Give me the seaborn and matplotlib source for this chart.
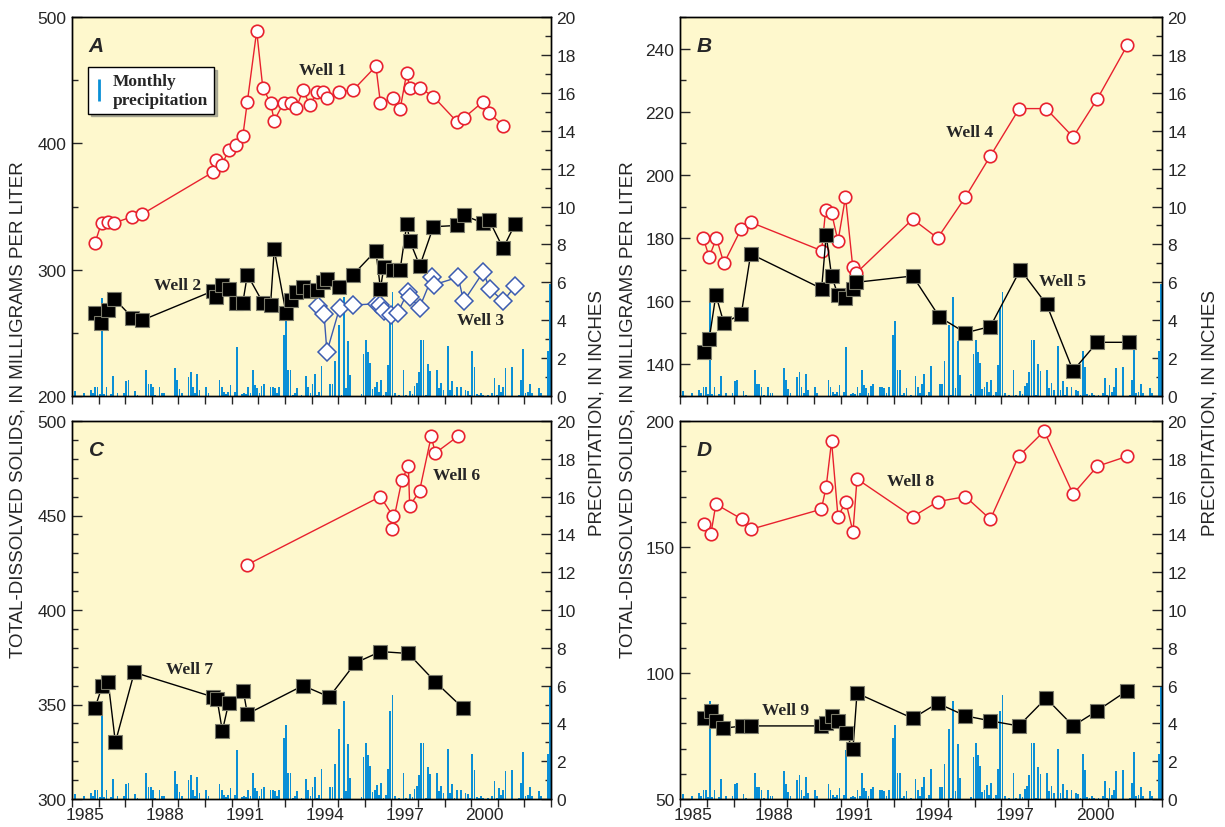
import numpy as np
import pandas as pd
import matplotlib
matplotlib.use('Agg')
import matplotlib.pyplot as plt
from matplotlib.lines import Line2D
from matplotlib.ticker import MultipleLocator, FixedLocator, NullFormatter
import seaborn as sns

# Monthly precipitation, inches, Jan 1985 - Dec 2002 (one row per year)
precip_by_year = [
    [0, 0.29, 0, 0, 0, 0.14, 0, 0, 0.32, 0.14, 0.45, 0.5],          # 1985
    [0.1, 5.16, 0.1, 0.45, 0, 0.1, 1.04, 0, 0.18, 0, 0, 0.14],       # 1986
    [0.77, 0.86, 0, 0, 0.29, 0.05, 0, 0, 0, 1.36, 0.61, 0.61],       # 1987
    [0.5, 0.05, 0, 0.45, 0.14, 0.14, 0, 0, 0, 0, 1.47, 0.82],        # 1988
    [0.36, 0.18, 0, 0, 1.0, 1.25, 0.47, 0.14, 1.15, 0.32, 0, 0],     # 1989
    [0.5, 0.14, 0, 0, 0, 0, 0.82, 0.47, 0.23, 0.1, 0.23, 0.57],      # 1990
    [0, 0.2, 2.6, 0, 0.1, 0.14, 0.1, 0.47, 0.14, 1.36, 0.6, 0.4],    # 1991
    [0.14, 0.54, 0.61, 0, 0, 0.5, 0.5, 0.4, 0.18, 0.45, 0, 3.24],    # 1992
    [3.94, 1.36, 1.36, 0.05, 0.18, 0.4, 0, 0.05, 0, 1.04, 0.5, 0.18],  # 1993
    [0.65, 1.15, 0.05, 0.23, 1.58, 0, 0, 0, 0.61, 0.61, 1.85, 0],    # 1994
    [3.73, 0.05, 5.2, 0.4, 2.92, 1.11, 0, 0, 0, 0, 0.1, 2.24],       # 1995
    [2.97, 2.33, 1.72, 0.36, 0.5, 0.72, 0.23, 0.86, 0.05, 0.23, 1.61, 4.66],  # 1996
    [5.48, 0.14, 0, 0.05, 0, 1.36, 0.05, 0, 0.29, 0.1, 0.54, 0.68],  # 1997
    [1.25, 2.97, 2.97, 0.05, 1.68, 1.31, 0, 0, 1.36, 0.4, 0.68, 0.32],  # 1998
    [0, 2.65, 0.32, 0.77, 0.07, 0.5, 0, 0.5, 0, 0.32, 0.29, 0.04],   # 1999
    [2.38, 1.54, 0.1, 0.05, 0.18, 0.04, 0, 0.07, 0, 0.18, 0.93, 0.04],  # 2000
    [0.59, 0.23, 0.47, 1.47, 0, 0, 1.52, 0, 0, 0.07, 0.86, 2.5],     # 2001
    [0.18, 0.2, 0.65, 0.18, 0, 0, 0.4, 0.18, 0, 0, 2.38, 5.9],       # 2002
]

# Well data: decimal year and total-dissolved solids (mg/L)
well1_t = [1985.86, 1986.11, 1986.34, 1986.59, 1987.27, 1987.64, 1990.28, 1990.43, 1990.64, 1990.89,
           1991.17, 1991.42, 1991.59, 1991.94, 1992.17, 1992.46, 1992.60, 1992.95, 1993.23, 1993.43,
           1993.68, 1993.95, 1994.20, 1994.42, 1994.60, 1995.04, 1995.56, 1996.42, 1996.59, 1997.06,
           1997.33, 1997.58, 1997.69, 1998.07, 1998.58, 1999.47, 1999.72, 2000.45, 2000.68, 2001.20]
well1_v = [321, 337, 338, 337, 342, 344, 377, 387, 383, 395,
           399, 406, 433, 489, 444, 432, 418, 432, 432, 428,
           442, 430, 441, 441, 436, 441, 442, 461, 432, 436,
           427, 456, 444, 444, 437, 417, 420, 433, 424, 414]

well2_t = [1985.86, 1986.08, 1986.34, 1986.59, 1987.27, 1987.64, 1990.28, 1990.43, 1990.64, 1990.89,
           1991.17, 1991.42, 1991.59, 1992.17, 1992.46, 1992.60, 1993.04, 1993.23, 1993.43, 1993.68,
           1993.95, 1994.20, 1994.42, 1994.60, 1995.04, 1995.56, 1996.42, 1996.59, 1996.72, 1997.06,
           1997.33, 1997.58, 1997.69, 1998.07, 1998.58, 1999.47, 1999.72, 2000.45, 2000.68, 2001.20,
           2001.65]
well2_v = [266, 258, 268, 277, 262, 260, 283, 278, 288, 285,
           274, 274, 296, 274, 272, 316, 266, 276, 282, 286,
           283, 284, 290, 293, 286, 296, 315, 285, 302, 300,
           300, 336, 323, 303, 334, 335, 343, 337, 339, 317,
           336]

well3_t = [1994.23, 1994.47, 1994.58, 1995.06, 1995.56, 1996.45, 1996.57, 1996.72, 1996.99, 1997.24,
           1997.61, 1997.72, 1998.06, 1998.53, 1998.59, 1999.51, 1999.72, 2000.45, 2000.70, 2001.20,
           2001.65]
well3_v = [271, 265, 235, 270, 272, 273, 272, 267, 264, 266,
           282, 278, 270, 294, 288, 294, 275, 298, 285, 275,
           287]

well4_t = [1985.87, 1986.09, 1986.36, 1986.64, 1987.29, 1987.64, 1990.29, 1990.44, 1990.66, 1990.90,
           1991.18, 1991.45, 1991.59, 1993.69, 1994.62, 1995.66, 1996.59, 1997.67, 1998.67, 1999.68,
           2000.58, 2001.70]
well4_v = [180, 174, 180, 172, 183, 185, 176, 189, 188, 179,
           193, 171, 169, 186, 180, 193, 206, 221, 221, 212,
           224, 241]

well5_t = [1985.88, 1986.09, 1986.34, 1986.64, 1987.29, 1987.64, 1990.29, 1990.46, 1990.66, 1990.90,
           1991.18, 1991.45, 1991.59, 1993.69, 1994.69, 1995.66, 1996.59, 1997.71, 1998.69, 1999.68,
           2000.58, 2001.76]
well5_v = [144, 148, 162, 153, 156, 175, 164, 181, 168, 162,
           161, 164, 166, 168, 155, 150, 152, 170, 159, 138,
           147, 147]

well6_t = [1991.59, 1996.59, 1997.05, 1997.02, 1997.40, 1997.64, 1997.69, 1998.06, 1998.50, 1998.65,
           1999.51]
well6_v = [424, 460, 450, 443, 469, 476, 455, 463, 492, 483,
           492]

well7_t = [1985.86, 1986.14, 1986.36, 1986.63, 1987.34, 1990.30, 1990.45, 1990.65, 1990.89, 1991.44,
           1991.59, 1993.68, 1994.67, 1995.65, 1996.59, 1997.64, 1998.65, 1999.70]
well7_v = [348, 360, 362, 330, 367, 354, 353, 336, 351, 357,
           345, 360, 354, 372, 378, 377, 362, 348]

well8_t = [1985.90, 1986.15, 1986.34, 1987.32, 1987.64, 1990.28, 1990.46, 1990.66, 1990.90, 1991.19,
           1991.46, 1991.61, 1993.69, 1994.62, 1995.66, 1996.59, 1997.65, 1998.60, 1999.68, 2000.58,
           2001.70]
well8_v = [159, 155, 167, 161, 157, 165, 174, 192, 162, 168,
           156, 177, 162, 168, 170, 161, 186, 196, 171, 182,
           186]

well9_t = [1985.88, 1986.15, 1986.34, 1986.59, 1987.32, 1987.64, 1990.28, 1990.46, 1990.66, 1990.90,
           1991.19, 1991.46, 1991.61, 1993.69, 1994.62, 1995.66, 1996.59, 1997.65, 1998.67, 1999.68,
           2000.58, 2001.70]
well9_v = [82, 85, 81, 78, 79, 79, 79, 80, 83, 81,
           76, 70, 92, 82, 88, 83, 81, 79, 90, 79,
           85, 93]

year_labels = [1985, 1988, 1991, 1994, 1997, 2000]

# ---- colours ----
BG = '#fef8cd'
BLUE_BAR = '#0a8fd6'
RED = '#e8212e'
DIAMOND = '#3b5bb0'

sns.set_style('ticks')
plt.rcParams['font.family'] = ['Liberation Sans', 'DejaVu Sans']
serif_bold = {'family': 'Liberation Serif', 'weight': 'bold', 'size': 12.5}

precip = np.array(precip_by_year).ravel()
months = 1985 + (np.arange(len(precip)) + 0.5) / 12.0

fig = plt.figure(figsize=(12.25, 8.28), dpi=100)
W, H = 1225.0, 828.0


def make_panel(rect_px, ylim, ymajor, yminor, letter, bottom_labels):
    l, t, r, b = rect_px
    ax2 = fig.add_axes([l / W, 1 - b / H, (r - l) / W, (b - t) / H])
    ax = ax2.twinx()
    # precipitation bars on the right axis (drawn behind the wells)
    ax2.set_facecolor(BG)
    ax2.bar(months, precip, width=0.78 / 12, color=BLUE_BAR, linewidth=0, zorder=1)
    ax2.set_ylim(0, 20)
    ax2.set_xlim(1985, 2003)
    ax2.yaxis.set_label_position('right')
    ax2.yaxis.tick_right()
    ax2.yaxis.set_major_locator(MultipleLocator(2))
    ax2.yaxis.set_minor_locator(MultipleLocator(1))
    # well axis on the left
    ax.yaxis.set_label_position('left')
    ax.yaxis.tick_left()
    ax.set_ylim(*ylim)
    ax.yaxis.set_major_locator(MultipleLocator(ymajor))
    ax.yaxis.set_minor_locator(MultipleLocator(yminor))
    ax.set_zorder(ax2.get_zorder() + 1)
    ax.patch.set_visible(False)
    for a in (ax, ax2):
        for s in a.spines.values():
            s.set_linewidth(1.0)
            s.set_color('black')
    ax.tick_params(axis='y', which='major', direction='in', length=7, width=1, labelsize=12.5, pad=4)
    ax.tick_params(axis='y', which='minor', direction='in', length=4, width=1)
    ax2.tick_params(axis='y', which='major', direction='in', length=7, width=1, labelsize=12.5, pad=4)
    ax2.tick_params(axis='y', which='minor', direction='in', length=4, width=1)
    # x ticks at every year; labels centred in the year
    ax2.set_xticks(np.arange(1985, 2004))
    ax2.xaxis.set_major_formatter(NullFormatter())
    if bottom_labels:
        ax2.xaxis.set_minor_locator(FixedLocator([y + 0.5 for y in year_labels]))
        ax2.set_xticklabels([str(y) for y in year_labels], minor=True)
    else:
        ax2.xaxis.set_minor_locator(FixedLocator([]))
    # bottom ticks point out, top ticks point in
    ax2.tick_params(axis='x', which='major', direction='out', length=6, width=1,
                    top=False, bottom=True)
    ax2.tick_params(axis='x', which='minor', length=0, labelsize=12.5, pad=6,
                    top=False, bottom=True)
    ax.tick_params(axis='x', which='major', direction='in', length=6, width=1,
                   top=True, bottom=False, labeltop=False, labelbottom=False)
    ax.tick_params(axis='x', which='minor', length=0, top=False, bottom=False,
                   labeltop=False, labelbottom=False)
    ax2.set_ylabel('')
    ax.set_ylabel('')
    ax.text(0.035, 0.925, letter, transform=ax.transAxes, fontsize=15,
            fontweight='bold', fontstyle='italic', ha='left', va='center')
    return ax, ax2


def draw_well(ax, t, v, kind):
    df = pd.DataFrame({'year': t, 'tds': v})
    if kind == 'circle':
        sns.lineplot(data=df, x='year', y='tds', ax=ax, estimator=None, sort=False,
                     color=RED, linewidth=1.0, marker='o', markersize=9,
                     markerfacecolor='white', markeredgecolor=RED, markeredgewidth=1.2, zorder=3)
    elif kind == 'square':
        sns.lineplot(data=df, x='year', y='tds', ax=ax, estimator=None, sort=False,
                     color='black', linewidth=1.0, marker='s', markersize=9.5,
                     markerfacecolor='black', markeredgecolor='#7a7a6a', markeredgewidth=0.8, zorder=4)
    else:
        sns.lineplot(data=df, x='year', y='tds', ax=ax, estimator=None, sort=False,
                     color=DIAMOND, linewidth=1.0, marker='D', markersize=9,
                     markerfacecolor='white', markeredgecolor=DIAMOND, markeredgewidth=1.1, zorder=3)
    ax.set_xlabel('')
    ax.set_ylabel('')


# Panel A
axA, axA2 = make_panel((72, 18, 551, 397), (200, 500), 100, 50, 'A', False)
draw_well(axA, well3_t, well3_v, 'diamond')
draw_well(axA, well2_t, well2_v, 'square')
draw_well(axA, well1_t, well1_v, 'circle')
axA.text(1994.4, 458, 'Well 1', fontdict=serif_bold, ha='center', va='center')
axA.text(1988.95, 288, 'Well 2', fontdict=serif_bold, ha='center', va='center')
axA.text(2000.35, 260, 'Well 3', fontdict=serif_bold, ha='center', va='center')
leg_handle = Line2D([], [], color=BLUE_BAR, marker='|', linestyle='None', markersize=16, markeredgewidth=2)
leg = axA.legend([leg_handle], ['Monthly\nprecipitation'], loc='upper left',
                 bbox_to_anchor=(0.033, 0.868), borderaxespad=0, prop=serif_bold,
                 frameon=True, fancybox=False, shadow={'color': '#9a9a8a', 'alpha': 0.8},
                 handlelength=0.6, handletextpad=0.5, borderpad=0.35, framealpha=1)
leg.get_frame().set_edgecolor('black')
leg.get_frame().set_linewidth(1.0)

# Panel B
axB, axB2 = make_panel((680, 18, 1162, 397), (130, 250), 20, 10, 'B', False)
draw_well(axB, well5_t, well5_v, 'square')
draw_well(axB, well4_t, well4_v, 'circle')
axB.text(1995.8, 213.5, 'Well 4', fontdict=serif_bold, ha='center', va='center')
axB.text(1999.3, 166.5, 'Well 5', fontdict=serif_bold, ha='center', va='center')

# Panel C
axC, axC2 = make_panel((72, 422, 551, 800), (300, 500), 50, 10, 'C', True)
draw_well(axC, well7_t, well7_v, 'square')
draw_well(axC, well6_t, well6_v, 'circle')
axC.text(1999.45, 471.5, 'Well 6', fontdict=serif_bold, ha='center', va='center')
axC.text(1989.4, 369, 'Well 7', fontdict=serif_bold, ha='center', va='center')

# Panel D
axD, axD2 = make_panel((680, 422, 1162, 800), (50, 200), 50, 10, 'D', True)
draw_well(axD, well9_t, well9_v, 'square')
draw_well(axD, well8_t, well8_v, 'circle')
axD.text(1993.6, 176, 'Well 8', fontdict=serif_bold, ha='center', va='center')
axD.text(1988.95, 85.5, 'Well 9', fontdict=serif_bold, ha='center', va='center')

# shared axis titles
ylab = 'TOTAL-DISSOLVED SOLIDS, IN MILLIGRAMS PER LITER'
plab = 'PRECIPITATION, IN INCHES'
fig.text(18 / W, 1 - 410 / H, ylab, rotation=90, ha='center', va='center', fontsize=13.5)
fig.text(628 / W, 1 - 410 / H, ylab, rotation=90, ha='center', va='center', fontsize=13.5)
fig.text(597 / W, 1 - 413 / H, plab, rotation=90, ha='center', va='center', fontsize=13.5)
fig.text(1210 / W, 1 - 413 / H, plab, rotation=90, ha='center', va='center', fontsize=13.5)

fig.savefig('out.png', dpi=100, facecolor='white')
